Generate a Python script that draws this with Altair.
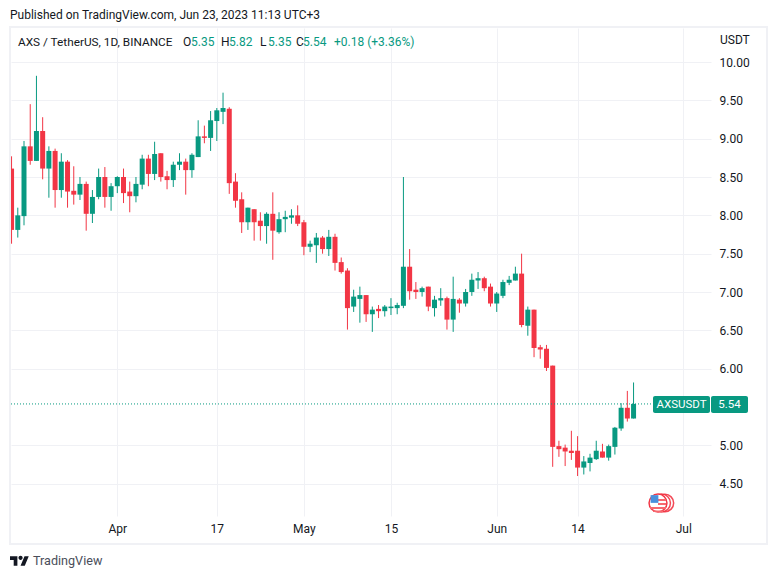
import altair as alt
import pandas as pd

start_date = "2023-03-15"
opens = [8.61,7.81,7.99,8.90,8.71,9.10,8.61,8.84,8.33,8.70,8.32,8.27,8.41,8.02,8.24,8.50,8.24,8.38,8.50,8.31,
 8.25,8.40,8.74,8.54,8.81,8.51,8.46,8.66,8.70,8.59,8.76,9.03,9.01,9.23,9.35,9.39,8.44,8.21,7.91,8.08,
 7.93,7.86,8.02,7.78,7.95,7.97,8.00,7.91,7.59,7.61,7.71,7.56,7.72,7.39,7.28,6.81,6.91,6.96,6.71,6.78,
 6.75,6.79,6.79,6.82,7.33,7.03,7.00,7.07,6.79,6.89,6.92,6.64,6.90,6.85,7.00,7.15,7.18,7.07,6.85,6.95,
 7.12,7.15,7.24,6.56,6.77,6.28,6.26,6.04,4.99,4.97,4.93,4.93,4.71,4.77,4.82,4.92,4.84,4.98,5.22,5.49,5.35]
highs = [8.77,8.10,8.97,9.45,9.82,9.28,8.90,8.87,8.81,8.72,8.64,8.50,8.44,8.33,8.61,8.63,8.42,8.51,8.61,8.44,
 8.50,8.79,8.79,8.96,8.81,8.58,8.70,8.81,8.74,8.81,9.24,9.17,9.36,9.40,9.60,9.41,8.55,8.30,8.10,8.08,
 8.04,8.04,8.30,8.04,8.06,8.08,8.13,7.94,7.67,7.77,7.73,7.81,7.76,7.45,7.31,7.03,7.07,6.96,6.81,6.83,
 6.83,6.92,6.86,8.50,7.56,7.13,7.07,7.07,6.95,7.05,6.94,7.20,6.92,7.04,7.24,7.26,7.20,7.11,7.00,7.16,
 7.21,7.33,7.50,6.81,6.77,6.31,6.31,6.04,5.06,5.01,5.19,5.12,4.86,4.89,5.06,5.02,5.01,5.24,5.55,5.71,5.82]
lows = [7.63,7.71,7.87,8.66,8.71,8.47,8.23,8.10,8.23,8.10,8.14,8.20,7.80,7.90,8.21,8.10,8.06,8.29,8.16,8.04,
 8.17,8.34,8.38,8.46,8.44,8.34,8.37,8.59,8.27,8.49,8.76,8.94,8.84,8.97,9.19,8.28,8.10,7.77,7.81,7.67,
 7.67,7.63,7.42,7.76,7.78,7.89,7.86,7.48,7.52,7.38,7.50,7.47,7.28,7.24,6.51,6.74,6.60,6.61,6.48,6.66,
 6.68,6.70,6.71,6.79,6.90,6.91,6.94,6.75,6.68,6.82,6.51,6.48,6.73,6.81,6.95,7.04,7.01,6.81,6.74,6.92,
 7.09,7.15,6.54,6.43,6.15,6.13,5.97,4.72,4.85,4.73,4.81,4.60,4.62,4.66,4.81,4.84,4.80,4.88,5.19,5.31,5.35]
closes = [7.81,8.00,8.90,8.71,9.10,8.61,8.84,8.33,8.70,8.31,8.27,8.41,8.02,8.24,8.50,8.24,8.38,8.50,8.29,8.25,
 8.41,8.74,8.54,8.80,8.50,8.46,8.66,8.70,8.59,8.79,9.03,9.01,9.24,9.37,9.40,8.42,8.19,7.91,8.10,7.91,
 7.86,8.02,7.80,7.95,7.98,8.00,7.89,7.59,7.63,7.71,7.56,7.72,7.38,7.26,6.79,6.94,6.96,6.71,6.77,6.75,
 6.81,6.81,6.83,7.33,7.01,7.00,7.05,6.81,6.90,6.92,6.64,6.91,6.85,7.00,7.16,7.18,7.05,6.85,6.98,7.13,
 7.16,7.24,6.57,6.77,6.27,6.25,6.01,4.98,4.95,4.92,4.90,4.71,4.79,4.84,4.93,4.84,4.99,5.23,5.49,5.35,5.54]
price_ticks = [4.5,5.0,6.0,6.5,7.0,7.5,8.0,8.5,9.0,9.5,10.0]
last_price = 5.54
UP, DOWN = "#089981", "#f23645"
TEXT = "#131722"
FONT = "Roboto"
FRAME = "#f0f1f5"

df = pd.DataFrame({
    "date": pd.date_range(start_date, periods=len(opens)).strftime("%Y-%m-%d"),
    "open": opens, "high": highs, "low": lows, "close": closes,
})
df["dir"] = ["up" if c >= o else "down" for o, c in zip(opens, closes)]

def px(x): return x - 11
def py(y): return y - 28
one = pd.DataFrame({"a": [0]})

xscale = alt.Scale(type="utc", padding=0, nice=False,
    domain=[alt.DateTime(year=2023, month=3, date=14, hours=21, minutes=50, utc=True),
            alt.DateTime(year=2023, month=7, date=5, hours=10, minutes=48, utc=True)])
yscale = alt.Scale(domain=[4.0785, 10.4435], nice=False, zero=False)
colors = alt.Color("dir:N", legend=None, scale=alt.Scale(domain=["up", "down"], range=[UP, DOWN]))
tick_dates = [alt.DateTime(year=2023, month=m, date=d, utc=True)
              for m, d in [(4,1),(4,17),(5,1),(5,15),(6,1),(6,14),(7,1)]]

xaxis = alt.Axis(values=tick_dates, title=None, domain=False, ticks=False, grid=True, gridColor=FRAME,
                 labelFont=FONT, labelFontSize=12, labelColor=TEXT, labelPadding=7, labelFlush=False,
                 labelOverlap=False,
                 labelExpr="utcdate(datum.value)==1 ? utcFormat(datum.value,'%b') : utcFormat(datum.value,'%-d')")
yaxis = alt.Axis(values=price_ticks, orient="right", title=None, domain=False, ticks=False, grid=True,
                 gridColor=FRAME, labelFont=FONT, labelFontSize=12, labelColor=TEXT, labelPadding=8,
                 format=".2f", labelAlign="left", labelOverlap=False)

wicks = alt.Chart(df).mark_rule(strokeWidth=1, clip=True).encode(
    x=alt.X("date:T", scale=xscale, axis=xaxis),
    y=alt.Y("low:Q", scale=yscale, axis=yaxis),
    y2="high:Q", color=colors)
bodies = alt.Chart(df).mark_bar(size=5, clip=True).encode(
    x=alt.X("date:T", scale=xscale), y=alt.Y("open:Q", scale=yscale), y2="close:Q", color=colors)
last_line = alt.Chart(pd.DataFrame({"p": [last_price]})).mark_rule(
    color=UP, strokeDash=[1, 2], strokeWidth=1).encode(
    y=alt.Y("p:Q", scale=yscale), x=alt.value(0), x2=alt.value(px(653)))

def label(text, x, y, color=TEXT, size=12, weight="normal", align="left", font=FONT):
    return alt.Chart(one).mark_text(text=text, color=color, fontSize=size, font=font, fontWeight=weight,
                                    align=align, baseline="middle").encode(x=alt.value(px(x)), y=alt.value(py(y)))

def box(x0, x1, y0, y1, **kw):
    return alt.Chart(one).mark_rect(**kw).encode(x=alt.value(px(x0)), x2=alt.value(px(x1)),
                                                 y=alt.value(py(y0)), y2=alt.value(py(y1)))

def ring(cx, cy, size, **kw):
    return alt.Chart(one).mark_point(**kw).encode(x=alt.value(px(cx)), y=alt.value(py(cy)), size=alt.value(size))

frame = box(10, 767, 27, 544, fill="transparent", stroke=FRAME, strokeWidth=2)
tags = [box(653, 710, 396, 413, color=UP, cornerRadius=2), box(711, 748, 396, 413, color=UP, cornerRadius=2),
        label("AXSUSDT", 681.5, 404.5, color="white", align="center", size=11.5),
        label("5.54", 729.5, 404.5, color="white", align="center", size=11.5)]

flag = [
    ring(665, 503, 300, shape="circle", filled=False, stroke=DOWN, strokeWidth=1.5, opacity=0.9),
    ring(661.5, 503, 320, shape="circle", filled=False, stroke=DOWN, strokeWidth=1.5, opacity=0.9),
    ring(658, 503, 320, shape="circle", filled=True, fill="white", stroke=DOWN, strokeWidth=1.5, opacity=1),
    box(658, 666, 499, 501, color="#f7686f"),
    box(658, 666, 503, 505, color="#f7686f"),
    box(650, 666, 507, 509, color="#f7686f"),
    box(653, 663, 510.5, 512, color="#f7686f"),
    ring(654.5, 499, 60, shape="square", filled=True, fill="#4a8fdc", strokeWidth=0, opacity=1),
]

logo_path = ("M-0.222,0.5H-0.611V-0.111H-1V-0.5H-0.222Z"
             "M0.556,0.5H0.111L0.528,-0.5H0.972Z"
             "M-0.111,-0.333a0.222,0.222 0 1,0 0.444,0a0.222,0.222 0 1,0 -0.444,0Z")
logo = ring(19.5, 561, 361, shape=logo_path, filled=True, fill=TEXT, strokeWidth=0, opacity=1)

texts = [
    label("Published on TradingView.com, Jun 23, 2023 11:13 UTC+3", 10, 15),
    label("AXS / TetherUS, 1D, BINANCE", 18, 42, size=11.8),
    label("O", 183, 42), label("5.35", 191, 42, color=UP),
    label("H", 221, 42), label("5.82", 229, 42, color=UP),
    label("L", 260, 42), label("5.35", 268, 42, color=UP),
    label("C", 296, 42), label("5.54", 303, 42, color=UP),
    label("+0.18 (+3.36%)", 334, 42, color=UP),
    label("USDT", 720, 40),
    label("TradingView", 33, 561, size=12.6, color="#4a4e5a"),
]

chart = alt.layer(wicks, bodies, last_line, frame, *tags, *flag, logo, *texts).properties(
    width=700, height=488, padding={"left": 3, "top": 20, "right": 58, "bottom": 56},
    autosize=alt.AutoSizeParams(type="none"),
).configure_view(stroke=None)

chart.save("out.html", embed_options={"renderer": "svg", "actions": False})
